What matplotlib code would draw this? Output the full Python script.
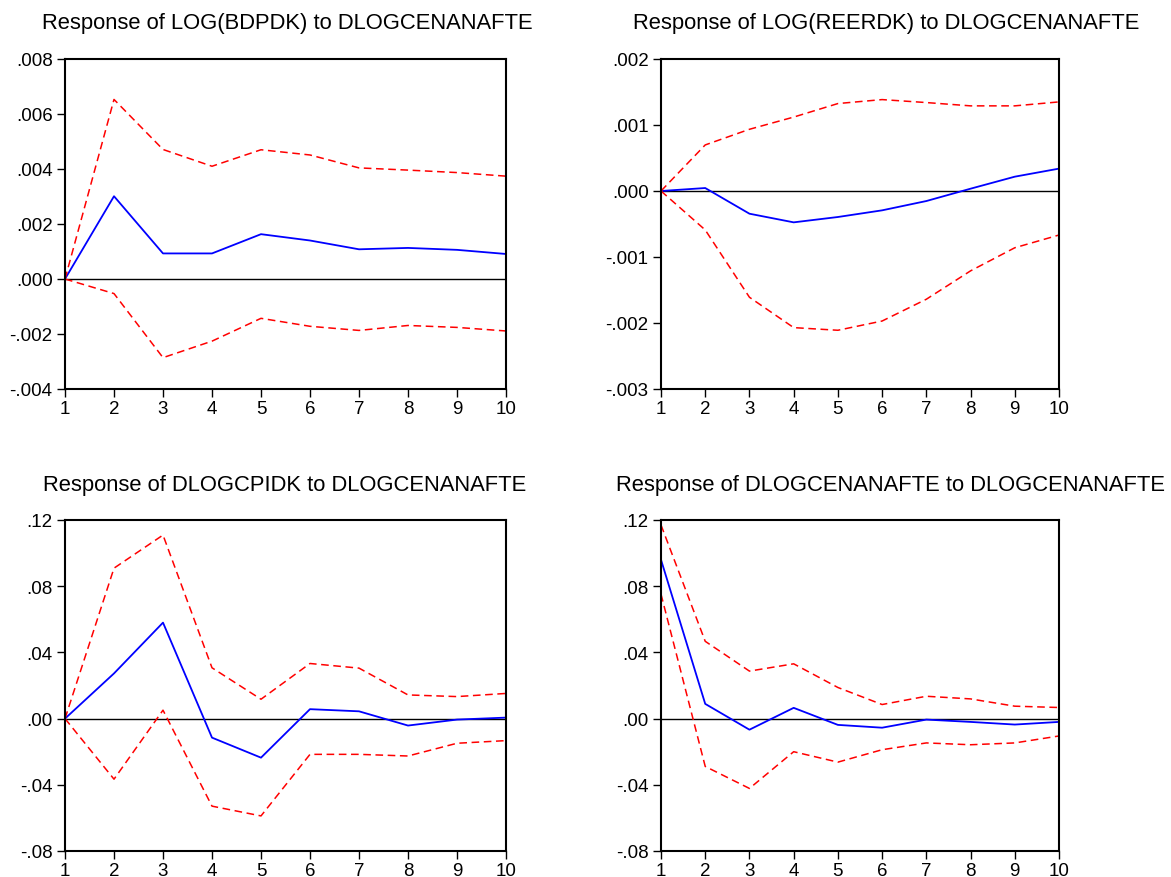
import numpy as np
import matplotlib
matplotlib.use("Agg")
import matplotlib.pyplot as plt
from matplotlib.ticker import FuncFormatter

plt.rcParams['font.family'] = ['Liberation Sans', 'DejaVu Sans']

periods = np.arange(1, 11)

# Response of LOG(BDPDK)
bdp_resp = [0.0, 0.00301, 0.00093, 0.00093, 0.00163, 0.00140, 0.00108, 0.00113, 0.00106, 0.00091]
bdp_upper = [0.0, 0.00653, 0.00471, 0.00410, 0.00470, 0.00451, 0.00404, 0.00396, 0.00387, 0.00374]
bdp_lower = [0.0, -0.00053, -0.00286, -0.00226, -0.00143, -0.00172, -0.00187, -0.00169, -0.00176, -0.00189]

# Response of LOG(REERDK)
reer_resp = [0.0, 0.000045, -0.000344, -0.000475, -0.000394, -0.000293, -0.000152, 0.000035, 0.000217, 0.000339]
reer_upper = [0.0, 0.000698, 0.000935, 0.00112, 0.001325, 0.001385, 0.00134, 0.00129, 0.00129, 0.00135]
reer_lower = [0.0, -0.00059, -0.00161, -0.00207, -0.00211, -0.00197, -0.00164, -0.00121, -0.00086, -0.000667]

# Response of DLOGCPIDK
cpi_resp = [0.0, 0.0273, 0.0580, -0.0115, -0.0236, 0.0057, 0.0044, -0.0042, -0.0006, 0.0006]
cpi_upper = [0.0, 0.0909, 0.1109, 0.0307, 0.0117, 0.0333, 0.0305, 0.0143, 0.0133, 0.0152]
cpi_lower = [0.0, -0.0366, 0.0051, -0.0529, -0.0588, -0.0216, -0.0216, -0.0226, -0.0149, -0.0133]

# Response of DLOGCENANAFTE
oil_resp = [0.0960, 0.0089, -0.0067, 0.0065, -0.0038, -0.0055, -0.0006, -0.0020, -0.0036, -0.0020]
oil_upper = [0.1170, 0.0467, 0.0287, 0.0331, 0.0188, 0.0085, 0.0135, 0.0119, 0.0075, 0.0067]
oil_lower = [0.0752, -0.0289, -0.0422, -0.0200, -0.0263, -0.0188, -0.0147, -0.0158, -0.0147, -0.0105]

panels = [
    ("Response of LOG(BDPDK) to DLOGCENANAFTE", bdp_resp, bdp_upper, bdp_lower,
     (-0.004, 0.008), np.arange(-0.004, 0.0081, 0.002), 3),
    ("Response of LOG(REERDK) to DLOGCENANAFTE", reer_resp, reer_upper, reer_lower,
     (-0.003, 0.002), np.arange(-0.003, 0.00201, 0.001), 3),
    ("Response of DLOGCPIDK to DLOGCENANAFTE", cpi_resp, cpi_upper, cpi_lower,
     (-0.08, 0.12), np.arange(-0.08, 0.121, 0.04), 2),
    ("Response of DLOGCENANAFTE to DLOGCENANAFTE", oil_resp, oil_upper, oil_lower,
     (-0.08, 0.12), np.arange(-0.08, 0.121, 0.04), 2),
]

# axes boxes in pixels: left, right, top, bottom
W, H = 1171, 878
boxes = [(65, 506, 60, 390), (661, 1059, 60, 390),
         (65, 506, 521, 852), (661, 1059, 521, 852)]
title_x = [287, 886, 285, 891]
title_y = [23, 23, 486, 486]


def fmt(dec):
    def f(v, pos):
        s = f"{v:.{dec}f}"
        s = s.replace("0.", ".", 1)
        if s.startswith("-") and float(s) == 0:
            s = s[1:]
        return s
    return FuncFormatter(f)


fig = plt.figure(figsize=(W / 100, H / 100), dpi=100)
for i, (title, resp, up, lo, ylim, yt, dec) in enumerate(panels):
    l, r, t, b = boxes[i]
    ax = fig.add_axes([l / W, 1 - b / H, (r - l) / W, (b - t) / H])
    ax.axhline(0, color='black', lw=1)
    ax.plot(periods, resp, color='#0000ff', lw=1.3)
    ax.plot(periods, up, color='#ff0000', lw=1.1, ls=(0, (5, 3)))
    ax.plot(periods, lo, color='#ff0000', lw=1.1, ls=(0, (5, 3)))
    ax.set_xlim(1, 10)
    ax.set_ylim(*ylim)
    ax.set_xticks(periods)
    ax.set_yticks(yt)
    ax.yaxis.set_major_formatter(fmt(dec))
    ax.tick_params(direction='out', length=6, width=1, labelsize=13.5)
    ax.tick_params(axis='y', pad=3)
    ax.tick_params(axis='x', pad=2)
    for s in ax.spines.values():
        s.set_linewidth(1.5)
    fig.text(title_x[i] / W, 1 - title_y[i] / H, title, ha='center', va='center', fontsize=15.8)

fig.savefig("out.png", dpi=100)
